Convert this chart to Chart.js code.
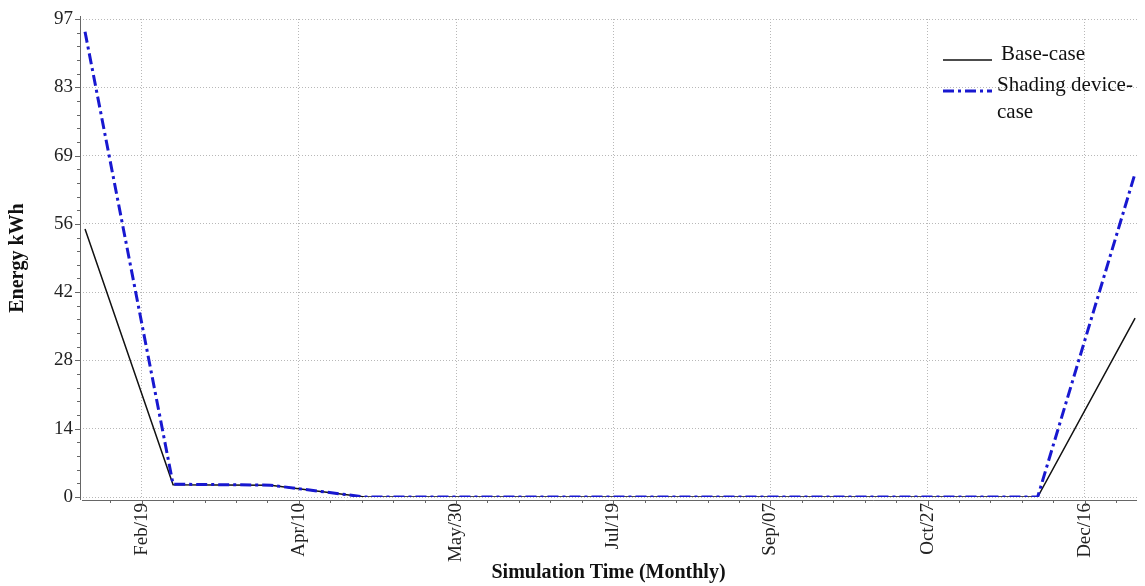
<!DOCTYPE html>
<html>
<head>
<meta charset="utf-8">
<script src="https://cdn.jsdelivr.net/npm/chart.js@4.4.0/dist/chart.umd.min.js"></script>
<style>
    html, body { margin: 0; padding: 0; background: #fff; }
    #wrap { width: 1145px; height: 586px; }
</style>
</head>
<body>
<div id="wrap"><canvas id="energyChart" width="1145" height="586"></canvas></div>
<script>
// Sample dates as day-of-year (start of each following month)
const sampleDays = [32, 60, 91, 121, 152, 182, 213, 244, 274, 305, 335, 366];

// Series values (kWh)
const baseCase = [54.4, 2.5, 2.4, 0, 0, 0, 0, 0, 0, 0, 0, 36.3];
const shadingCase = [94.4, 2.6, 2.4, 0, 0, 0, 0, 0, 0, 0, 0, 65.7];

// X axis ticks (day-of-year) and their labels
const xTickDays = [50, 100, 150, 200, 250, 300, 350];
const xTickLabels = ['Feb/19', 'Apr/10', 'May/30', 'Jul/19', 'Sep/07', 'Oct/27', 'Dec/16'];

// Y axis tick labels (7 equal steps up to 97)
const yMax = 97;
const yTickLabels = ['0', '14', '28', '42', '56', '69', '83', '97'];

// Legend text lines
const legendLines = [['Base-case'], ['Shading device-', 'case']];

const SERIF = '"Liberation Serif", "Times New Roman", serif';

// Axis lines, minor ticks, legend
const axesPlugin = {
    id: 'axesPlugin',
    afterDraw(chart) {
        const ctx = chart.ctx;
        const { left, right, top, bottom } = chart.chartArea;
        const xs = chart.scales.x;
        const ys = chart.scales.y;
        const axisY = bottom + 3;

        ctx.save();
        ctx.strokeStyle = '#666';
        ctx.lineWidth = 1;

        // axis lines
        ctx.beginPath();
        ctx.moveTo(left + 0.5, top - 3);
        ctx.lineTo(left + 0.5, axisY);
        ctx.moveTo(left + 2, axisY + 0.5);
        ctx.lineTo(right, axisY + 0.5);
        ctx.stroke();

        // x ticks: major every 50 days, minor every 10
        ctx.beginPath();
        for (let d = 10; d <= 370; d += 10) {
            if (d < xs.min || d > xs.max) continue;
            const px = Math.round(xs.getPixelForValue(d)) + 0.5;
            const len = xTickDays.includes(d) ? 6 : 3;
            ctx.moveTo(px, axisY);
            ctx.lineTo(px, axisY + len);
        }
        // y ticks: major at labels, 4 minor between
        const step = yMax / 7;
        for (let i = 0; i <= 35; i++) {
            const v = i * step / 5;
            const py = Math.round(ys.getPixelForValue(v)) + 0.5;
            const len = i % 5 === 0 ? 5 : 3;
            ctx.moveTo(left - len, py);
            ctx.lineTo(left, py);
        }
        ctx.stroke();

        // legend
        const lx = right - 194;
        let ly = top + 39;
        ctx.font = '21px ' + SERIF;
        ctx.textBaseline = 'middle';
        ctx.fillStyle = '#111';
        const legendSets = [chart.data.datasets[0], chart.data.datasets[1]];
        legendSets.forEach((ds, i) => {
            ctx.beginPath();
            ctx.strokeStyle = ds.borderColor;
            ctx.lineWidth = ds.borderWidth;
            ctx.setLineDash(ds.borderDash || []);
            ctx.moveTo(lx, ly + 2);
            ctx.lineTo(lx + 49, ly + 2);
            ctx.stroke();
            ctx.setLineDash([]);
            const tx = i === 0 ? lx + 58 : lx + 54;
            legendLines[i].forEach((line, j) => {
                ctx.fillText(line, tx, ly - 4 + j * 27);
            });
            ly += 31;
        });
        ctx.restore();
    }
};

const ctx = document.getElementById('energyChart').getContext('2d');
new Chart(ctx, {
    type: 'line',
    data: {
        datasets: [
            {
                label: 'Base-case',
                data: sampleDays.map((d, i) => ({ x: d, y: baseCase[i] })),
                borderColor: '#111111',
                borderWidth: 1.5,
                pointRadius: 0,
                tension: 0,
                order: 1
            },
            {
                label: 'Shading device-case',
                data: sampleDays.map((d, i) => ({ x: d, y: shadingCase[i] })),
                borderColor: '#1818d0',
                borderWidth: 3,
                borderDash: [11, 4, 3, 4],
                pointRadius: 0,
                tension: 0,
                order: 0
            }
        ]
    },
    options: {
        responsive: false,
        animation: false,
        devicePixelRatio: 1,
        layout: { padding: { top: 19, right: 8, left: 0, bottom: 0 } },
        plugins: {
            legend: { display: false },
            tooltip: { enabled: false }
        },
        scales: {
            x: {
                type: 'linear',
                min: 30.4,
                max: 366.6,
                afterFit: (scale) => { scale.height = 89; },
                afterBuildTicks: (scale) => {
                    scale.ticks = xTickDays.map(v => ({ value: v }));
                },
                ticks: {
                    autoSkip: false,
                    minRotation: 90,
                    maxRotation: 90,
                    padding: 6,
                    color: '#222',
                    font: { family: SERIF, size: 19 },
                    callback: (value) => xTickLabels[xTickDays.indexOf(value)]
                },
                grid: { color: '#b8b8b8', lineWidth: 1, drawTicks: false },
                border: { display: false, dash: [1, 2] },
                title: {
                    display: true,
                    text: 'Simulation Time (Monthly)',
                    color: '#111',
                    font: { family: SERIF, size: 20, weight: 'bold' },
                    padding: { top: 0, bottom: 1 }
                }
            },
            y: {
                min: 0,
                max: yMax,
                afterFit: (scale) => { scale.width = 80; },
                afterBuildTicks: (scale) => {
                    scale.ticks = yTickLabels.map((_, i) => ({ value: i * yMax / 7 }));
                },
                ticks: {
                    autoSkip: false,
                    padding: 7,
                    color: '#222',
                    font: { family: SERIF, size: 19 },
                    callback: (value, index) => yTickLabels[index]
                },
                grid: { color: '#b8b8b8', lineWidth: 1, drawTicks: false },
                border: { display: false, dash: [1, 2] },
                title: {
                    display: true,
                    text: 'Energy kWh',
                    color: '#111',
                    font: { family: SERIF, size: 20, weight: 'bold' },
                    padding: { top: 6, bottom: 0 }
                }
            }
        }
    },
    plugins: [axesPlugin]
});
</script>
</body>
</html>
